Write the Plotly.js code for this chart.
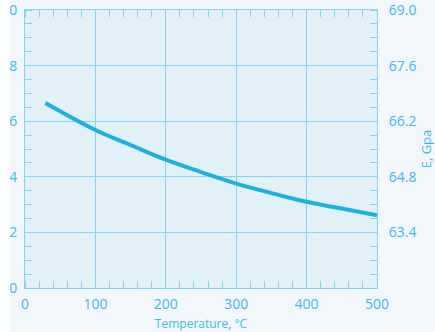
<!DOCTYPE html>
<html>
<head>
<meta charset="utf-8">
<script src="https://cdn.plot.ly/plotly-3.0.1.min.js"></script>
<style>
  html, body { margin: 0; padding: 0; background: #f1f7fa; }
  #chart { width: 435px; height: 332px; }
</style>
</head>
<body>
<div id="chart"></div>
<script>
// Elastic modulus of the alloy against temperature
const temperatureC = [29, 50, 100, 150, 200, 250, 300, 350, 400, 450, 500];
const modulusGPa   = [66.66, 66.45, 65.98, 65.60, 65.23, 64.92, 64.63, 64.39, 64.17, 64.00, 63.83];

// Axis ticks
const xTicks      = [0, 100, 200, 300, 400, 500];
const leftTicks   = [0, 2, 4, 6, 8, 10];
const leftLabels  = ['0', '2', '4', '6', '8', '10'];
const rightTicks  = [63.4, 64.8, 66.2, 67.6, 69.0];

const ink = '#45b8e6';
const rule = '#86d3ef';
const clear = 'rgba(0,0,0,0)';

const data = [
  // empty trace so the left-hand scale and its grid are laid out
  { x: [], y: [], type: 'scatter', mode: 'lines', hoverinfo: 'skip' },
  {
    x: temperatureC,
    y: modulusGPa,
    yaxis: 'y2',
    type: 'scatter',
    mode: 'lines',
    line: { color: '#1fb1de', width: 4, shape: 'spline', smoothing: 1.2 },
    hoverinfo: 'skip'
  }
];

const layout = {
  width: 435,
  height: 332,
  margin: { l: 25, r: 58, t: 10, b: 44 },
  paper_bgcolor: '#f1f7fa',
  plot_bgcolor: '#e2f1f8',
  showlegend: false,
  font: { family: 'Open Sans, sans-serif', size: 13, color: ink },
  xaxis: {
    range: [0, 500],
    tickvals: xTicks,
    showgrid: true, gridcolor: rule, gridwidth: 1,
    zeroline: false,
    showline: true, linecolor: rule, linewidth: 1,
    mirror: 'ticks',
    ticks: 'outside', ticklen: 3, tickcolor: clear,
    ticklabeloverflow: 'allow',
    minor: { dtick: 20, ticks: 'inside', ticklen: 7, tickcolor: rule, tickwidth: 1, showgrid: false },
    tickfont: { size: 14, color: ink },
    title: { text: 'Temperature, °C', font: { size: 12, color: ink }, standoff: 14 }
  },
  yaxis: {
    range: [0, 10],
    tickvals: leftTicks,
    ticktext: leftLabels,
    showgrid: true, gridcolor: rule, gridwidth: 1,
    zeroline: false,
    showline: true, linecolor: rule, linewidth: 1,
    mirror: 'ticks',
    ticks: 'outside', ticklen: 4, tickcolor: clear,
    ticklabeloverflow: 'allow',
    minor: { dtick: 0.5, ticks: 'inside', ticklen: 7, tickcolor: rule, tickwidth: 1, showgrid: false },
    tickfont: { size: 14, color: ink }
  },
  yaxis2: {
    overlaying: 'y',
    side: 'right',
    range: [62, 69],
    tickvals: rightTicks,
    tickformat: '.1f',
    showgrid: false,
    zeroline: false,
    showline: false,
    ticks: 'outside', ticklen: 8, tickcolor: clear,
    ticklabeloverflow: 'allow',
    tickfont: { size: 14, color: ink },
    title: { text: 'E, Gpa', font: { size: 13, color: ink }, standoff: 12 }
  },
  shapes: [{
    type: 'rect', xref: 'paper', yref: 'paper', layer: 'above',
    x0: -25 / 352, x1: -15 / 352, y0: -0.2, y1: 1.05,
    fillcolor: '#fbfdfe', line: { width: 0 }
  }]
};

Plotly.newPlot('chart', data, layout, { displayModeBar: false, staticPlot: true });
</script>
</body>
</html>
